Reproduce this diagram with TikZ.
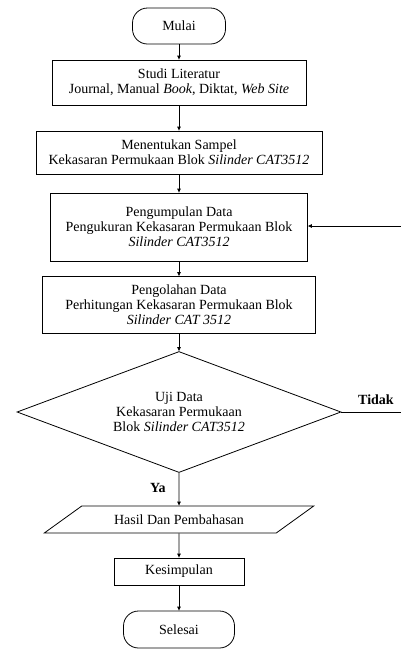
\documentclass[tikz,border=0pt]{standalone}
\usepackage{fontspec}
\setmainfont{Liberation Serif}
\usepackage{tikz}
\usetikzlibrary{shapes,arrows,positioning,calc,arrows.meta}

\begin{document}
\begin{tikzpicture}[x=1pt,y=-1pt,
    font=\fontsize{14}{15}\selectfont,
    every node/.style={align=center, inner sep=1pt},
    box/.style={draw, line width=0.8pt, rectangle},
    term/.style={draw, line width=0.8pt, rectangle, rounded corners=15pt},
    keputusan/.style={draw, line width=0.8pt, diamond, aspect=2.68, minimum width=324pt, minimum height=121pt, inner sep=0pt},
    io/.style={draw, line width=0.8pt, trapezium, trapezium left angle=25, trapezium right angle=155, trapezium stretches=true, minimum width=270pt, minimum height=27pt},
    panah/.style={-{Triangle[length=4pt,width=3.5pt]}, line width=0.8pt},
    label tebal/.style={font=\fontsize{14}{15}\selectfont\bfseries}]
    \useasboundingbox (0,0) rectangle (401,649);

    % Start
    \node[term, minimum width=93pt, minimum height=36pt] (mulai) at (179,26) {Mulai};

    % Steps
    \node[box, minimum width=254pt, minimum height=45pt] (studi) at (179,82.5)
        {Studi Literatur\\ Journal, Manual \textit{Book}, Diktat, \textit{Web Site}};
    \node[box, minimum width=286pt, minimum height=43pt] (sampel) at (179,152.5)
        {Menentukan Sampel\\ Kekasaran Permukaan Blok \textit{Silinder CAT3512}};
    \node[box, minimum width=257pt, minimum height=68pt] (kumpul) at (179,227)
        {Pengumpulan Data\\ Pengukuran Kekasaran Permukaan Blok\\ \textit{Silinder CAT3512}};
    \node[box, minimum width=273pt, minimum height=57pt] (olah) at (179,305)
        {Pengolahan Data\\ Perhitungan Kekasaran Permukaan Blok\\ \textit{Silinder CAT 3512}};

    % Decision
    \node[keputusan] (uji) at (179,412)
        {Uji Data\\ Kekasaran Permukaan\\ Blok \textit{Silinder CAT3512}};

    % Output and end
    \node[io] (hasil) at (179,519.5) {Hasil Dan Pembahasan};
    \node[box, minimum width=130pt, minimum height=27pt] (simpul) at (179,571.5) {Kesimpulan};
    \node[term, minimum width=111pt, minimum height=37pt] (selesai) at (179,629.5) {Selesai};

    % Flow
    \draw[panah] (mulai) -- (studi);
    \draw[panah] (studi) -- (sampel);
    \draw[panah] (sampel) -- (kumpul);
    \draw[panah] (kumpul) -- (olah);
    \draw[panah] (olah) -- (uji);
    \draw[panah] (uji) -- node[pos=0.45, left=12pt, label tebal] {Ya} (hasil);
    \draw[panah] (hasil) -- (simpul);
    \draw[panah] (simpul) -- (selesai);

    % Loop back (runs off the right edge)
    \coordinate (tepi) at (405,412);
    \coordinate (tepiatas) at (405,226);
    \draw[panah] (uji.east) -- (tepi) -- (tepiatas) -- (kumpul.east |- tepiatas);
    \node[label tebal] (tidak) at (376,400) {Tidak};
\end{tikzpicture}
\end{document}
